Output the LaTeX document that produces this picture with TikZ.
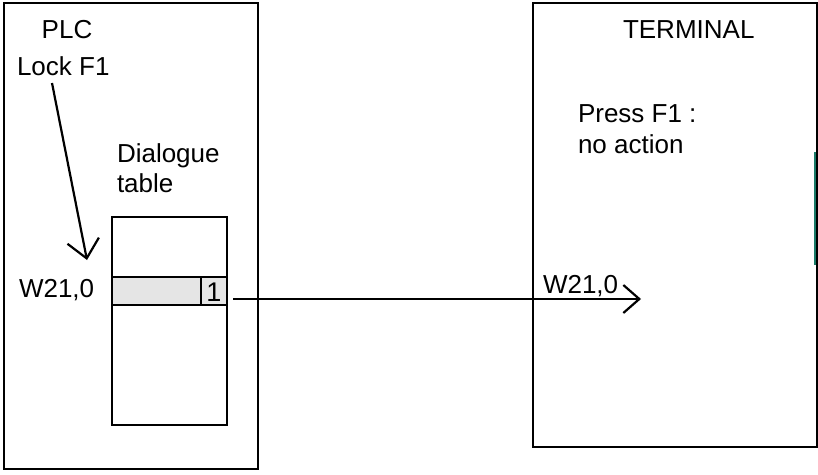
\documentclass[tikz,border=0pt]{standalone}
\usepackage{fontspec}
\setmainfont{Liberation Sans}
\usetikzlibrary{arrows.meta}
\definecolor{tealmark}{RGB}{26,122,104}
\definecolor{rowgray}{RGB}{229,229,229}
\begin{document}
\begin{tikzpicture}[x=1pt,y=-1pt,
  lbl/.style={inner sep=0pt, outer sep=0pt, font=\fontsize{26}{31}\selectfont},
  frame/.style={draw, line width=2.2pt, rectangle, inner sep=0pt, outer sep=0pt, anchor=north west},
  wire/.style={line width=2.2pt},
  barb/.style={-{Straight Barb[length=18pt,width=32pt,line width=2.2pt]}}]
\useasboundingbox (0,0) rectangle (818,474);
% outer boxes
\node[frame, minimum width=254pt, minimum height=466pt] (plc) at (4,3) {};
\node[frame, minimum width=284pt, minimum height=444pt] (term) at (533,3) {};
% dialogue table
\node[frame, minimum width=115pt, minimum height=208pt] (table) at (112,217) {};
\node[frame, fill=rowgray, minimum width=89pt, minimum height=28pt] (row) at (112,277) {};
\node[frame, fill=rowgray, minimum width=26pt, minimum height=28pt] (cell) at (201,277) {};
\node[lbl, anchor=base, font=\fontsize{27}{31}\selectfont] (one) at (cell.center |- 0,301) {1};
% texts
\node[lbl, anchor=base] (plctxt) at (67,38) {PLC};
\node[lbl, anchor=base west] (lock) at (17,75) {Lock F1};
\node[lbl, anchor=base west] (dlg) at (117,162) {Dialogue};
\node[lbl, anchor=base west] (tbl) at (117,192) {table};
\node[lbl, anchor=base west] (wl) at (19,297) {W21,0};
\node[lbl, anchor=base west] (termtxt) at (623,38) {TERMINAL};
\node[lbl, anchor=base west] (press) at (578,122) {Press F1 :};
\node[lbl, anchor=base west] (noact) at (578,153) {no action};
\node[lbl, anchor=base west] (wr) at (543,293) {W21,0};
% connectors
\coordinate (lockstart) at (52,83);
\coordinate (lockend) at (87,260);
\draw[wire, barb] (lockstart) -- (lockend);
\coordinate (sigstart) at (233,299);
\coordinate (sigend) at (641,299);
\draw[wire, -{Straight Barb[length=16pt,width=28pt,line width=2.2pt]}] (sigstart) -- (sigend);
% teal mark on terminal edge
\draw[tealmark, line width=2.5pt] (815,152) -- (815,265);
\end{tikzpicture}
\end{document}
